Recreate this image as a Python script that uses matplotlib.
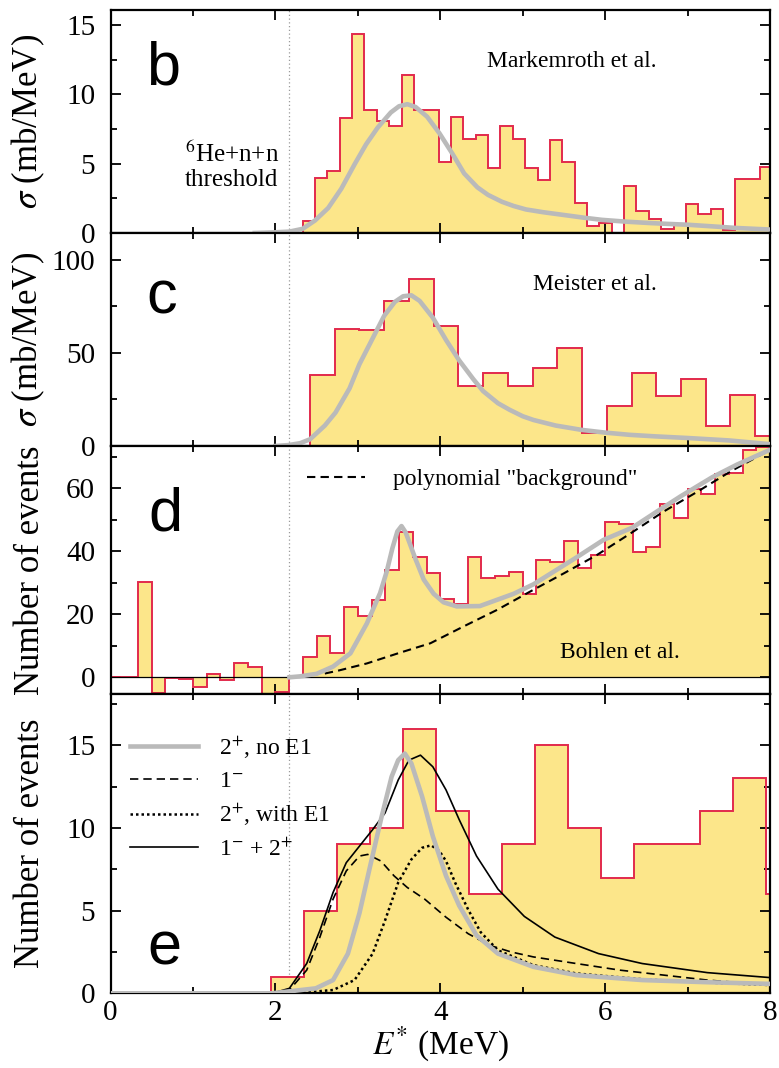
import numpy as np
import matplotlib.pyplot as plt
from matplotlib.ticker import MultipleLocator

plt.rcParams['font.family'] = ['Liberation Serif', 'DejaVu Serif']
plt.rcParams['mathtext.fontset'] = 'stix'

yellow = '#fce68a'
red = '#e22a4c'
gray = '#bababa'
threshold = 2.16

# ---- panel b : Markemroth et al. (sigma, mb/MeV), bins of 0.15 MeV
b_edges = 2.33 + 0.15 * np.arange(39)
b_vals = [0.9, 4.0, 4.5, 8.3, 14.4, 8.9, 8.1, 7.7, 11.4, 8.9, 8.9, 5.1, 8.4, 6.8,
          7.1, 4.7, 7.7, 6.8, 4.7, 3.8, 6.7, 5.1, 2.2, 0.5, 0.7, 0.0, 3.4, 1.6,
          1.0, 0.3, 0.6, 2.1, 1.4, 1.7, 0.25, 3.9, 3.9, 4.8]
b_fit_e = [1.75, 2.0, 2.17, 2.33, 2.48, 2.64, 2.8, 2.96, 3.1, 3.24, 3.4, 3.5, 3.6,
           3.7, 3.84, 3.99, 4.15, 4.29, 4.45, 4.58, 4.75, 4.89, 5.04, 5.25, 5.5,
           5.75, 5.96, 6.25, 6.54, 6.75, 6.99, 7.3, 7.6, 8.0]
b_fit_v = [0.0, 0.05, 0.1, 0.3, 0.9, 1.8, 3.2, 4.95, 6.4, 7.6, 8.7, 9.15, 9.3, 9.1,
           8.4, 7.2, 5.7, 4.3, 3.3, 2.75, 2.25, 1.95, 1.7, 1.5, 1.3, 1.1, 0.95,
           0.82, 0.72, 0.66, 0.6, 0.48, 0.36, 0.25]

# ---- panel c : Meister et al., bins of 0.3 MeV
c_edges = 2.42 + 0.3 * np.arange(20)
c_vals = [38.3, 63.0, 62.4, 77.9, 89.9, 64.7, 32.0, 39.2, 32.0, 41.9, 52.7, 7.2,
          21.6, 39.2, 27.0, 36.0, 10.8, 27.5, 5.4]
c_fit_e = [2.0, 2.16, 2.3, 2.42, 2.6, 2.73, 2.9, 3.02, 3.17, 3.32, 3.45, 3.55, 3.65,
           3.75, 3.91, 4.07, 4.23, 4.4, 4.52, 4.7, 4.84, 5.0, 5.13, 5.4, 5.71, 6.0,
           6.3, 6.6, 7.0, 7.5, 8.0]
c_fit_v = [0, 0.5, 1.5, 3.6, 11, 18, 31, 44, 57, 70, 77.5, 80.5, 81, 78, 69, 57, 46,
           36, 29.5, 23, 19.5, 16, 14, 11, 8.7, 7.2, 6, 5.2, 4.3, 3, 1]

# ---- panel d : Bohlen et al. (events), bins of 1/6 MeV
d_edges = np.arange(49) / 6.0
d_vals = [0, 0, 30.4, -4.9, -0.3, -0.6, -3.2, 1.1, -0.85, 4.4, 3.4, -5.5, -4.6, 0.3,
          6.3, 13.2, 7.8, 22.2, 19.6, 24.6, 34.0, 46.0, 38.2, 33.2, 24.8, 23.4, 38.3,
          31.4, 32.2, 33.3, 26.4, 37.2, 36.7, 43.4, 34.6, 38.8, 49.4, 48.7, 39.9,
          41.2, 55.0, 50.5, 59.7, 58.2, 64.5, 64.7, 72.0, 73.0]
d_fit_e = [2.17, 2.3, 2.5, 2.7, 2.91, 3.11, 3.27, 3.35, 3.42, 3.48, 3.53, 3.58, 3.63,
           3.7, 3.8, 3.92, 4.04, 4.2, 4.48, 4.89, 5.13, 5.65, 5.98, 6.33, 6.64, 6.92,
           7.3, 7.6, 8.0]
d_fit_v = [0, 0.3, 1.1, 3.4, 7.6, 17.1, 26.7, 33.5, 41.0, 46.3, 48.0, 46.0, 42.5,
           37.5, 31.0, 26.5, 23.8, 22.5, 22.6, 26.5, 29.5, 38.0, 43.6, 47.5, 52.8,
           57.5, 63.5, 67.5, 72.2]
d_bg_e = [2.6, 2.76, 3.11, 3.51, 3.88, 4.28, 4.69, 5.09, 5.5, 5.9, 6.31, 6.71, 7.12,
          7.52, 8.0]
d_bg_v = [1.2, 2.1, 4.4, 7.8, 10.8, 16.1, 21.4, 27.2, 33.0, 38.8, 45.7, 52.6, 58.9,
          65.3, 72.2]

# ---- panel e : events, bins of 0.4 MeV
e_edges = [0, 1.95, 2.35, 2.75, 3.15, 3.55, 3.95, 4.35, 4.75, 5.15, 5.55, 5.95, 6.35,
           6.75, 7.15, 7.55, 7.95, 8.35]
e_counts = [0, 1, 5, 9, 10, 16, 11, 6, 9, 15, 10, 7, 9, 9, 11, 13, 6]

e_2p_e = [0, 1.96, 2.49, 2.7, 2.88, 3.02, 3.15, 3.28, 3.41, 3.49, 3.57, 3.65, 3.78,
          3.91, 4.07, 4.23, 4.44, 4.7, 5.13, 5.65, 6.45, 7.24, 8.0]
e_2p_v = [0, 0, 0.3, 0.8, 2.4, 4.85, 7.7, 10.5, 13.1, 14.1, 14.5, 13.9, 11.9, 9.5,
          7.1, 5.3, 3.5, 2.4, 1.6, 1.1, 0.8, 0.67, 0.57]
e_1m_e = [0, 1.96, 2.17, 2.38, 2.54, 2.7, 2.86, 3.02, 3.12, 3.28, 3.44, 3.6, 3.81,
          4.07, 4.34, 4.6, 4.86, 5.13, 5.65, 6.18, 6.71, 7.24, 8.0]
e_1m_v = [0, 0, 0.2, 1.4, 3.4, 5.7, 7.4, 8.3, 8.4, 8.0, 7.1, 6.4, 5.7, 4.6, 3.6, 2.9,
          2.5, 2.2, 1.8, 1.4, 1.1, 0.8, 0.5]
e_2pE1_e = [0, 2.23, 2.7, 2.96, 3.18, 3.33, 3.49, 3.65, 3.78, 3.89, 3.99, 4.07, 4.18,
            4.34, 4.49, 4.7, 5.13, 5.65, 6.45, 7.24, 8.0]
e_2pE1_v = [0, 0, 0.2, 0.8, 2.4, 4.4, 6.7, 8.1, 8.8, 8.95, 8.6, 8.0, 6.7, 5.05, 3.7,
            2.6, 1.7, 1.2, 0.85, 0.65, 0.5]
e_sum_e = [0, 1.96, 2.17, 2.38, 2.54, 2.7, 2.86, 3.02, 3.18, 3.33, 3.49, 3.62, 3.76,
           3.91, 4.07, 4.23, 4.44, 4.7, 5.02, 5.39, 5.92, 6.45, 7.24, 8.0]
e_sum_v = [0, 0, 0.3, 1.8, 3.8, 6.1, 7.9, 8.9, 9.9, 10.9, 12.9, 14.1, 14.4, 13.7,
           12.3, 10.5, 8.3, 6.3, 4.65, 3.4, 2.4, 1.8, 1.25, 0.95]

W, H = 779, 1068
fig = plt.figure(figsize=(W / 100, H / 100), dpi=100)


def add_panel(top, bottom):
    return fig.add_axes([110.5 / W, 1 - bottom / H, 659.5 / W, (bottom - top) / H])


axb = add_panel(10, 233)
axc = add_panel(233, 446)
axd = add_panel(446, 694)
axe = add_panel(694, 993.3)


def histo(ax, vals, edges):
    ax.stairs(vals, edges, baseline=0, fill=True, color=yellow, lw=0, zorder=1)
    ax.stairs(vals, edges, baseline=0, color=red, lw=1.4, zorder=2)


def style(ax, ymaj, ymin, ylim, bottom_labels=False):
    ax.set_xlim(0, 8)
    ax.set_ylim(*ylim)
    ax.xaxis.set_major_locator(MultipleLocator(2))
    ax.xaxis.set_minor_locator(MultipleLocator(1))
    ax.yaxis.set_major_locator(MultipleLocator(ymaj))
    ax.yaxis.set_minor_locator(MultipleLocator(ymin))
    ax.tick_params(which='both', direction='in', top=True, right=True, width=1.3,
                   labelsize=21, labelbottom=bottom_labels)
    ax.tick_params(which='major', length=7)
    ax.tick_params(which='minor', length=4)
    ax.tick_params(axis='y', pad=11)
    ax.tick_params(axis='x', pad=5)
    for s in ax.spines.values():
        s.set_linewidth(1.6)
    ax.axvline(threshold, color='#9a9a9a', lw=0.9, ls=(0, (1, 2)), zorder=0.5)
    ax.yaxis.set_label_coords(-0.096, 0.5)


# panel b
histo(axb, b_vals, b_edges)
axb.plot(b_fit_e, b_fit_v, color=gray, lw=3.3, zorder=3)
style(axb, 5, 2.5, (0, 16.1))
axb.set_ylabel(r'$\sigma$ (mb/MeV)', fontsize=25)
axb.text(0.08, 0.665, 'b', transform=axb.transAxes, fontsize=44,
         family='Liberation Sans', ha='center', va='baseline')
axb.text(0.70, 0.745, 'Markemroth et al.', transform=axb.transAxes, fontsize=17,
         ha='center', va='baseline')
axb.text(0.184, 0.213, '$^6$He+n+n\nthreshold', transform=axb.transAxes,
         fontsize=18, ha='center', va='baseline', linespacing=1.1)

# panel c
histo(axc, c_vals, c_edges)
axc.plot(c_fit_e, c_fit_v, color=gray, lw=3.3, zorder=3)
style(axc, 50, 25, (0, 114.5))
axc.set_ylabel(r'$\sigma$ (mb/MeV)', fontsize=25)
axc.text(0.078, 0.624, 'c', transform=axc.transAxes, fontsize=44,
         family='Liberation Sans', ha='center', va='baseline')
axc.text(0.735, 0.732, 'Meister et al.', transform=axc.transAxes, fontsize=17,
         ha='center', va='baseline')

# panel d
histo(axd, d_vals, d_edges)
axd.axhline(0, color='black', lw=0.9, zorder=2.5)
axd.plot(d_bg_e, d_bg_v, color='black', lw=1.5, dashes=(4, 2.5), zorder=3)
axd.plot(d_fit_e, d_fit_v, color=gray, lw=3.3, zorder=4)
style(axd, 20, 10, (-5.3, 73.4))
axd.set_ylabel('Number of events', fontsize=25)
axd.text(0.084, 0.661, 'd', transform=axd.transAxes, fontsize=44,
         family='Liberation Sans', ha='center', va='baseline')
axd.plot([0.2975, 0.386], [0.875, 0.875], transform=axd.transAxes, color='black',
         lw=1.5, dashes=(4, 2.5))
axd.text(0.428, 0.843, 'polynomial "background"', transform=axd.transAxes,
         fontsize=17, ha='left', va='baseline')
axd.text(0.772, 0.145, 'Bohlen et al.', transform=axd.transAxes, fontsize=17,
         ha='center', va='baseline')

# panel e
histo(axe, e_counts, e_edges)
l1, = axe.plot(e_2p_e, e_2p_v, color=gray, lw=3.3, zorder=4, label='2$^{+}$, no E1')
l2, = axe.plot(e_1m_e, e_1m_v, color='black', lw=1.2, dashes=(5, 3), zorder=3,
               label='1$^{-}$')
l3, = axe.plot(e_2pE1_e, e_2pE1_v, color='black', lw=1.8, ls=(0, (1, 1.2)),
               zorder=3, label='2$^{+}$, with E1')
l4, = axe.plot(e_sum_e, e_sum_v, color='black', lw=1.2, zorder=3,
               label='1$^{-}$ + 2$^{+}$')
style(axe, 5, 2.5, (0, 18.1), bottom_labels=True)
axe.set_ylabel('Number of events', fontsize=25)
axe.set_xlabel('$E^{*}$ (MeV)', fontsize=24)
axe.xaxis.set_label_coords(0.5, -0.105)
axe.text(0.082, 0.0946, 'e', transform=axe.transAxes, fontsize=44,
         family='Liberation Sans', ha='center', va='baseline')
axe.legend(handles=[l1, l2, l3, l4], loc='upper left', bbox_to_anchor=(0.029, 0.865),
           frameon=False, fontsize=17, handlelength=2.9, handletextpad=0.9,
           labelspacing=0.42, borderaxespad=0, borderpad=0)

fig.savefig('out.png', dpi=100)
